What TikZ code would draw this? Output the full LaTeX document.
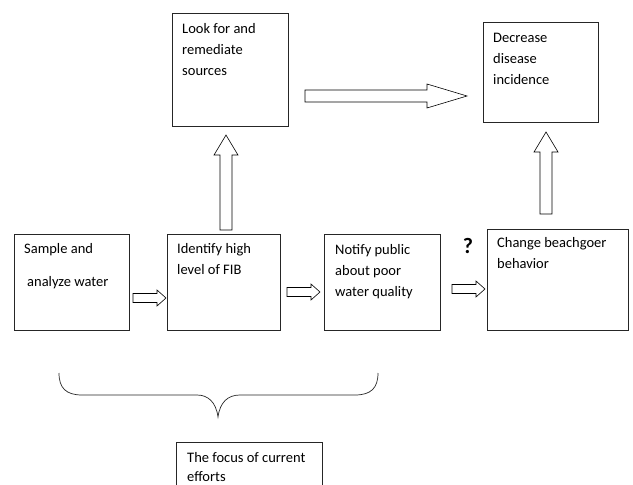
\documentclass[tikz,border=0pt]{standalone}
\usepackage{fontspec}
\setmainfont{Carlito}
\begin{document}
\begin{tikzpicture}[x=1pt,y=-1pt,
  box/.style={draw=black!85,line width=0.8pt,fill=white},
  lbl/.style={anchor=base west,align=left,inner sep=0pt,font=\fontsize{14.5}{21}\selectfont},
  blockarr/.pic={\draw[line width=0.6pt,fill=white,line join=miter]
     (0,-\sh) -- (\al-\hl,-\sh) -- (\al-\hl,-\hh) -- (\al,0) -- (\al-\hl,\hh) -- (\al-\hl,\sh) -- (0,\sh) -- cycle;}
]
\useasboundingbox (0,0) rectangle (633,485);
% boxes
\draw[box] (14,234) rectangle (129,330);
\node[inner sep=0pt] (sample) at (71.5,282) {};
\draw[box] (167,234) rectangle (280,330);
\node[inner sep=0pt] (identify) at (223.5,282) {};
\draw[box] (324,234) rectangle (440,330);
\node[inner sep=0pt] (notify) at (382,282) {};
\draw[box] (487,229) rectangle (628,330);
\node[inner sep=0pt] (change) at (557,280) {};
\draw[box] (172,13) rectangle (288,126);
\node[inner sep=0pt] (look) at (230,70) {};
\draw[box] (483,22) rectangle (598,122);
\node[inner sep=0pt] (decrease) at (540,72) {};
\draw[box] (176,490) -- (176,442) -- (322,442) -- (322,490);
% texts (anchor = baseline of last line)
\node[lbl] (t1) at (24,253) {Sample and};
\node[lbl] (t1b) at (27,286) {analyze water};
\node[lbl] (t2) at (177,274) {Identify high\\level of FIB};
\node[lbl] (t3) at (335,296) {Notify public\\about poor\\water quality};
\node[lbl] (t4) at (497,268) {Change beachgoer\\behavior};
\node[lbl] (t5) at (182,75) {Look for and\\remediate\\sources};
\node[lbl] (t6) at (493,84) {Decrease\\disease\\incidence};
\node[lbl,font=\fontsize{14.5}{19}\selectfont] (t7) at (187,481) {The focus of current\\efforts};
\node[font=\fontsize{22}{22}\selectfont\bfseries,inner sep=0pt] (q) at (468,246) {?};
% block arrows
\def\sh{4.5}\def\hh{8}\def\hl{9}\def\al{33}
\pic at (133,298) {blockarr};
\pic at (287,292) {blockarr};
\pic at (452,289) {blockarr};
\def\sh{6}\def\hh{12}\def\hl{40}\def\al{162}
\pic at (305,96) {blockarr};
\def\sh{6}\def\hh{12}\def\hl{20}\def\al{95}
\pic[rotate=90] at (226,230) {blockarr};
\def\sh{6}\def\hh{12}\def\hl{20}\def\al{82}
\pic[rotate=90] at (546,214) {blockarr};
% brace
\draw[line width=0.7pt,black!85] (59,373) .. controls (59,388) and (66,395) .. (82,395)
  -- (197,395) .. controls (208,395) and (216,402) .. (218,417)
  .. controls (220,402) and (228,395) .. (240,395) -- (355,395)
  .. controls (371,395) and (378,388) .. (378,373);
\end{tikzpicture}
\end{document}
